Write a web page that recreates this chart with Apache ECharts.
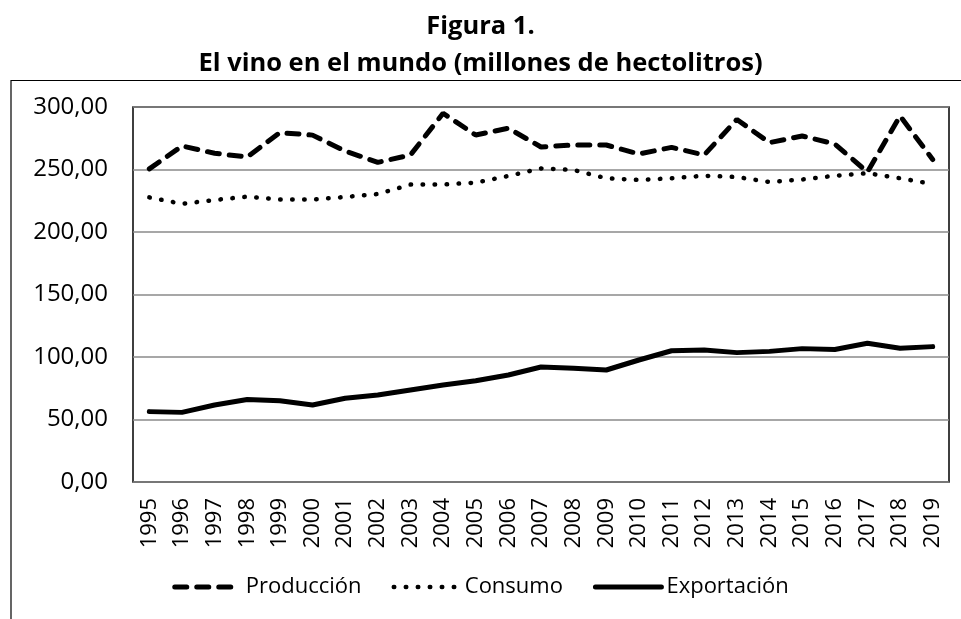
<!DOCTYPE html>
<html>
<head>
<meta charset="utf-8">
<script src="https://cdn.jsdelivr.net/npm/echarts@6/dist/echarts.min.js"></script>
<style>
  html, body { margin: 0; padding: 0; background: #fff; }
  #chart { width: 961px; height: 619px; }
</style>
</head>
<body>
<div id="chart"></div>
<script>
// años
var years = ['1995', '1996', '1997', '1998', '1999', '2000', '2001', '2002', '2003', '2004',
  '2005', '2006', '2007', '2008', '2009', '2010', '2011', '2012', '2013', '2014',
  '2015', '2016', '2017', '2018', '2019'];

// millones de hectolitros
var produccion = [250.5, 268.8, 263, 260, 279.5, 277.5, 264.8, 255.7, 261.6, 295,
  277.6, 283, 268, 269.6, 269.6, 262.4, 267.7, 261.6, 290, 271.5,
  276.8, 270.4, 248, 292.8, 258];
var consumo = [227.7, 222.5, 225.6, 228.3, 226, 226, 228, 230.4, 237.9, 238,
  239.5, 244.8, 250.9, 249.6, 243, 241.6, 243, 245, 244, 240,
  242, 245, 247, 243, 238.4];
var exportacion = [56.3, 55.7, 61.6, 66, 65, 61.6, 67, 69.6, 73.6, 77.6,
  81, 85.6, 92, 91, 89.6, 97.6, 105, 105.6, 103.5, 104.5,
  106.7, 106, 111, 107, 108.3];

var yTicks = { min: 0, max: 300, step: 50 };

var FONT = '"Open Sans", "Noto Sans", sans-serif';

var dashStyle = { color: '#000', width: 5, type: [12, 10], cap: 'round' };
var dotStyle = { color: '#000', width: 4.5, type: [0.5, 11.5], cap: 'round' };
var solidStyle = { color: '#000', width: 5, cap: 'round' };

var chart = echarts.init(document.getElementById('chart'));
chart.setOption({
  animation: false,
  title: {
    text: 'Figura 1.\nEl vino en el mundo (millones de hectolitros)',
    left: 'center',
    top: 3,
    textStyle: {
      fontFamily: FONT,
      fontSize: 25.5,
      fontWeight: 'bold',
      color: '#000',
      lineHeight: 37
    }
  },
  graphic: [{
    type: 'polyline',
    shape: { points: [[11, 619], [11, 80.5], [961, 80.5]] },
    style: { stroke: '#000', lineWidth: 1.2, fill: null }
  }],
  legend: {
    bottom: 16,
    left: 'center',
    itemWidth: 66,
    itemHeight: 14,
    itemGap: 30,
    itemStyle: { opacity: 0 },
    textStyle: { fontFamily: FONT, fontSize: 22, color: '#000' },
    data: [
      { name: 'Producción', itemStyle: { opacity: 0 }, lineStyle: dashStyle },
      { name: 'Consumo', itemStyle: { opacity: 0 }, lineStyle: dotStyle },
      { name: 'Exportación', itemStyle: { opacity: 0 }, lineStyle: solidStyle }
    ]
  },
  grid: {
    left: 133,
    right: 12,
    top: 107,
    bottom: 137,
    show: true,
    borderColor: '#000',
    borderWidth: 1.5,
    containLabel: false
  },
  xAxis: {
    type: 'category',
    data: years,
    boundaryGap: true,
    axisLine: { show: false },
    axisTick: { show: false },
    axisLabel: {
      rotate: 90,
      interval: 0,
      margin: 16,
      fontFamily: FONT,
      fontSize: 22,
      color: '#000'
    }
  },
  yAxis: {
    type: 'value',
    min: yTicks.min,
    max: yTicks.max,
    interval: yTicks.step,
    axisLine: { show: false },
    axisTick: { show: false },
    splitLine: { lineStyle: { color: '#8a8a8a', width: 1.5 } },
    axisLabel: {
      margin: 25,
      fontFamily: FONT,
      fontSize: 24,
      color: '#000',
      formatter: function (v) { return v.toFixed(2).replace('.', ','); }
    }
  },
  series: [{
    name: 'Producción',
    type: 'line',
    data: produccion,
    symbol: 'none',
    color: '#000',
    lineStyle: dashStyle
  }, {
    name: 'Consumo',
    type: 'line',
    data: consumo,
    symbol: 'none',
    color: '#000',
    lineStyle: dotStyle
  }, {
    name: 'Exportación',
    type: 'line',
    data: exportacion,
    symbol: 'none',
    color: '#000',
    lineStyle: solidStyle
  }]
});
</script>
</body>
</html>
